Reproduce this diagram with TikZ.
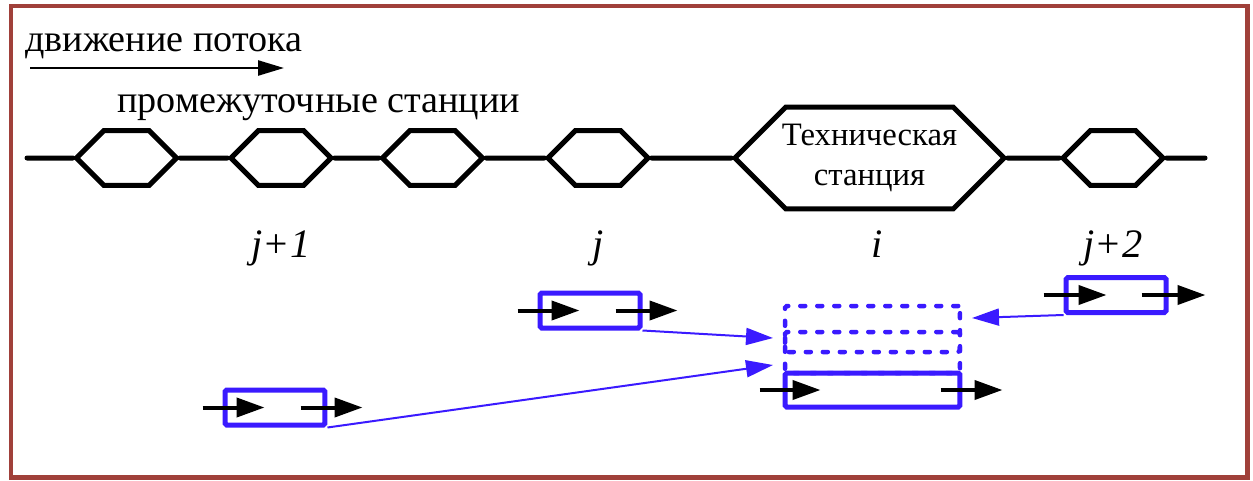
\documentclass[tikz,border=0pt]{standalone}
\usepackage{fontspec}
\setmainfont{Liberation Serif}
\usepackage{tikz}
\usetikzlibrary{arrows.meta,positioning,shapes.symbols}

\definecolor{frameRed}{RGB}{160,64,58}
\definecolor{trainBlue}{RGB}{58,26,255}

\begin{document}
\begin{tikzpicture}[
            x=0.02cm, y=-0.02cm,
            every node/.style={font=\fontsize{21.7}{25}\selectfont},
            halt/.style={draw, line width=0.1cm, fill=white, signal,
                signal to=east and west, signal pointer angle=90,
                minimum width=2cm, minimum height=1.1cm, inner sep=0pt},
            train/.style={draw=trainBlue, line width=0.1cm, rounded corners=1pt,
                minimum width=2cm, minimum height=0.7cm, inner sep=0pt},
            track/.style={train, minimum width=3.5cm},
            ghost/.style={track, line width=0.09cm, line cap=round,
                dash pattern=on 0.1cm off 0.24cm},
            flow/.style={line width=0.08cm, -{Triangle[length=0.56cm, width=0.38cm]}},
            link/.style={draw=trainBlue, line width=0.04cm,
                -{Triangle[length=0.54cm, width=0.34cm]}},
            tag/.style={font=\fontsize{23}{26}\selectfont\itshape, anchor=base}
        ]

        \useasboundingbox (0,0) rectangle (1253,480);
        \draw[frameRed, line width=0.1cm] (11,6) rectangle (1247,477);

        %================================================
        % Legend: direction of the flow
        %================================================
        \node[anchor=base west, inner sep=0pt] (legend) at (25,51) {движение потока};
        \coordinate (flowL) at (30,68);
        \coordinate (flowR) at (284,68);
        \draw[line width=0.05cm, -{Triangle[length=0.52cm, width=0.3cm]}] (flowL) -- (flowR);

        \node[anchor=base west, inner sep=0pt] (inter) at (117,112) {промежуточные станции};

        %================================================
        % Line with stations
        %================================================
        \coordinate (west) at (27,158);
        \coordinate (east) at (1205,158);

        \node[halt] (s1) at (126.5,158) {};
        \node[halt] (s2) at (281,158) {};
        \node[halt] (s3) at (432.5,158) {};
        \node[halt] (s4) at (598,158) {};
        \node[halt, minimum width=5.16cm, minimum height=2.04cm, align=center,
              inner xsep=-0.08cm,
              font=\fontsize{18.6}{22.5}\selectfont] (tech) at (869.5,158) {Техническая\\станция};
        \node[halt] (s5) at (1113,158) {};

        \draw[line width=0.1cm, line cap=round] (west) -- (s1) (s1) -- (s2) (s2) -- (s3)
            (s3) -- (s4) (s4) -- (tech) (tech) -- (s5) (s5) -- (east);

        \node[tag] (lj1) at (281,257) {j+1};
        \node[tag] (lj) at (598,257) {j};
        \node[tag] (li) at (877,257) {i};
        \node[tag] (lj2) at (1113,257) {j+2};

        %================================================
        % Trains and tracks of the technical station
        %================================================
        \node[train] (tj) at (590,310.5) {};
        \node[train] (tj1) at (275,407.5) {};
        \node[train] (tj2) at (1116,295) {};

        \node[ghost] (gA) at (872.5,329) [minimum height=0.92cm] {};
        \node[ghost] (gB) at (872.5,352.5) [minimum height=0.82cm] {};
        \node[track] (ti) at (872.5,390) [minimum height=0.68cm] {};

        \draw[flow] ([xshift=-0.4cm]tj.west) -- ++(62,0);
        \draw[flow] ([xshift=-0.54cm]tj.east) -- ++(62,0);
        \draw[flow] ([xshift=-0.4cm]tj1.west) -- ++(62,0);
        \draw[flow] ([xshift=-0.54cm]tj1.east) -- ++(62,0);
        \draw[flow] ([xshift=-0.4cm]tj2.west) -- ++(63,0);
        \draw[flow] ([xshift=-0.54cm]tj2.east) -- ++(64,0);
        \draw[flow] ([xshift=-0.46cm]ti.west) -- ++(61,0);
        \draw[flow] ([xshift=-0.44cm]ti.east) -- ++(62,0);

        \coordinate (inJ) at (773,338);
        \coordinate (inJ1) at (773,365);
        \coordinate (inJ2) at (972,318);

        \draw[link] (tj.south east) -- (inJ);
        \draw[link] (tj1.south east) -- (inJ1);
        \draw[link] (tj2.south west) -- (inJ2);

        \end{tikzpicture}
\end{document}
